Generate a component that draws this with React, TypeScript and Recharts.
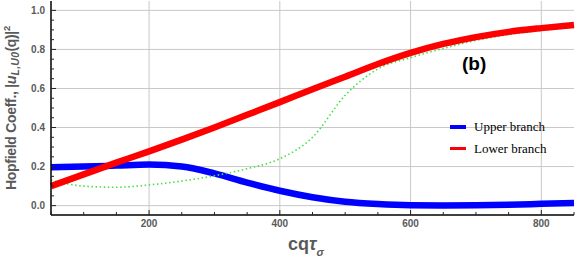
import React from "react";
import { LineChart, Line, XAxis, YAxis, CartesianGrid, Legend } from "recharts";

const qValues = [50, 100, 150, 200, 250, 300, 350, 400, 450, 500, 550, 600, 650, 700, 750, 800, 850];
const upperBranch = [0.197, 0.2, 0.205, 0.21, 0.2, 0.165, 0.118, 0.076, 0.043, 0.02, 0.008, 0.002, 0.001, 0.002, 0.005, 0.009, 0.013];
const lowerBranch = [0.1, 0.16, 0.22, 0.278, 0.338, 0.4, 0.465, 0.53, 0.596, 0.66, 0.725, 0.782, 0.828, 0.863, 0.89, 0.909, 0.925];
const dottedCurve = [0.13, 0.1, 0.094, 0.106, 0.126, 0.153, 0.189, 0.24, 0.35, 0.565, 0.7, 0.758, 0.805, 0.846, 0.876, 0.897, 0.915];

const xTicks = [50, 100, 150, 200, 250, 300, 350, 400, 450, 500, 550, 600, 650, 700, 750, 800, 850];
const xMajor = [200, 400, 600, 800];
const yTicks = [0, 0.05, 0.1, 0.15, 0.2, 0.25, 0.3, 0.35, 0.4, 0.45, 0.5, 0.55, 0.6, 0.65, 0.7, 0.75, 0.8, 0.85, 0.9, 0.95, 1.0];
const yMajor = [0, 0.2, 0.4, 0.6, 0.8, 1.0];
const legendOrder = ["Upper branch", "Lower branch"];

const data = qValues.map((q, i) => ({
  q,
  upper: upperBranch[i],
  lower: lowerBranch[i],
  dotted: dottedCurve[i],
}));

const tickFont = { fontFamily: "Liberation Sans, Arial, sans-serif", fontSize: 10, fontWeight: 700, fill: "#5a5a5a" };
const isMajorY = (v: number) => yMajor.some((m) => Math.abs(m - v) < 1e-6);

const BottomTick = (props: any) => {
  const { x, y, payload } = props;
  const major = xMajor.includes(payload.value);
  return (
    <g>
      <line x1={x} x2={x} y1={y} y2={y - (major ? 5 : 3)} stroke="#222" />
      {major && (
        <text x={x} y={y + 12} textAnchor="middle" {...tickFont}>
          {payload.value}
        </text>
      )}
    </g>
  );
};

const TopTick = (props: any) => {
  const { x, y, payload } = props;
  const major = xMajor.includes(payload.value);
  return <line x1={x} x2={x} y1={y} y2={y + (major ? 5 : 3)} stroke="#222" />;
};

const LeftTick = (props: any) => {
  const { x, y, payload } = props;
  const major = isMajorY(payload.value);
  return (
    <g>
      <line x1={x} x2={x + (major ? 5 : 3)} y1={y} y2={y} stroke="#222" />
      {major && (
        <text x={x - 6} y={y + 3.5} textAnchor="end" {...tickFont}>
          {payload.value.toFixed(1)}
        </text>
      )}
    </g>
  );
};

const RightTick = (props: any) => {
  const { x, y, payload } = props;
  const major = isMajorY(payload.value);
  return <line x1={x} x2={x - (major ? 5 : 3)} y1={y} y2={y} stroke="#222" />;
};

const YTitle = () => (
  <text
    x={15.5}
    y={108}
    transform="rotate(-90, 15.5, 108)"
    textAnchor="middle"
    fontFamily="Liberation Sans, Arial, sans-serif"
    fontWeight={700}
    fontSize={14}
    fill="#5a5a5a"
    letterSpacing={-0.3}
  >
    Hopfield Coeff., |
    <tspan fontStyle="italic" fontSize={14.5}>u</tspan>
    <tspan fontStyle="italic" fontSize={10.5} dy={3} letterSpacing={0.3}>L,U0</tspan>
    <tspan dy={-3}>(q)|</tspan>
    <tspan fontSize={9.5} dy={-6}>2</tspan>
  </text>
);

const XTitle = () => (
  <text x={288} y={250} fontFamily="Liberation Sans, Arial, sans-serif" fontWeight={700} fontSize={18} fill="#5a5a5a">
    cq<tspan fontStyle="italic">τ</tspan>
    <tspan fontStyle="italic" fontSize={11} dy={6}>σ</tspan>
  </text>
);

const LegendBox = (props: any) => {
  const items = (props.payload || [])
    .filter((p: any) => legendOrder.includes(p.value))
    .sort((a: any, b: any) => legendOrder.indexOf(a.value) - legendOrder.indexOf(b.value));
  return (
    <div style={{ position: "relative", width: 0, height: 0 }}>
      <div
        style={{
          position: "absolute",
          left: 462,
          top: 53,
          fontFamily: "Liberation Sans, Arial, sans-serif",
          fontWeight: 700,
          fontSize: 19,
          color: "#000",
          whiteSpace: "nowrap",
        }}
      >
        (b)
      </div>
      {items.map((item: any, i: number) => (
        <div
          key={item.value}
          style={{
            position: "absolute",
            left: 450,
            top: 119 + i * 21.5,
            display: "flex",
            alignItems: "center",
            whiteSpace: "nowrap",
            fontFamily: "Liberation Serif, Times New Roman, serif",
            fontSize: 13,
            color: "#000",
          }}
        >
          <span style={{ display: "inline-block", width: 16, height: 3.5, background: item.color, marginRight: 8 }} />
          {item.value}
        </div>
      ))}
    </div>
  );
};

export default function App() {
  return (
    <div style={{ position: "absolute", left: 0, top: 0, width: 576, height: 261, background: "#fff" }}>
      <LineChart width={576} height={261} data={data} margin={{ top: 1, right: 2, bottom: 0, left: 0 }}>
        <CartesianGrid stroke="#c8c8c8" verticalValues={xMajor} horizontalValues={yMajor} />
        <XAxis
          dataKey="q"
          type="number"
          domain={[50, 850]}
          ticks={xTicks}
          interval={0}
          height={46}
          tickSize={0}
          tickMargin={0}
          tickLine={false}
          tick={BottomTick}
          axisLine={{ stroke: "#000", strokeWidth: 1.5 }}
          label={{ content: XTitle }}
        />
        <XAxis
          xAxisId="top"
          orientation="top"
          dataKey="q"
          type="number"
          domain={[50, 850]}
          ticks={xTicks}
          interval={0}
          height={0}
          tickSize={0}
          tickMargin={0}
          tickLine={false}
          tick={TopTick}
          axisLine={{ stroke: "#000", strokeWidth: 1.5 }}
        />
        <YAxis
          type="number"
          domain={[-0.048, 1.048]}
          ticks={yTicks}
          interval={0}
          width={51}
          tickSize={0}
          tickMargin={0}
          tickLine={false}
          tick={LeftTick}
          axisLine={{ stroke: "#000", strokeWidth: 1.5 }}
          label={{ content: YTitle }}
        />
        <YAxis
          yAxisId="right"
          orientation="right"
          type="number"
          domain={[-0.048, 1.048]}
          ticks={yTicks}
          interval={0}
          width={0}
          tickSize={0}
          tickMargin={0}
          tickLine={false}
          tick={RightTick}
          axisLine={{ stroke: "#000", strokeWidth: 1.5 }}
        />
        <Legend content={LegendBox} wrapperStyle={{ position: "absolute", left: 0, top: 0, width: 0, height: 0 }} />
        <Line
          type="monotone"
          dataKey="upper"
          name="Upper branch"
          stroke="#0000ff"
          strokeWidth={6.5}
          dot={false}
          isAnimationActive={false}
        />
        <Line
          type="monotone"
          dataKey="dotted"
          stroke="#44e044"
          strokeWidth={1.6}
          strokeDasharray="1.5 2.6"
          dot={false}
          legendType="none"
          isAnimationActive={false}
        />
        <Line
          type="monotone"
          dataKey="lower"
          name="Lower branch"
          stroke="#ff0000"
          strokeWidth={6.5}
          dot={false}
          isAnimationActive={false}
        />
      </LineChart>
    </div>
  );
}
